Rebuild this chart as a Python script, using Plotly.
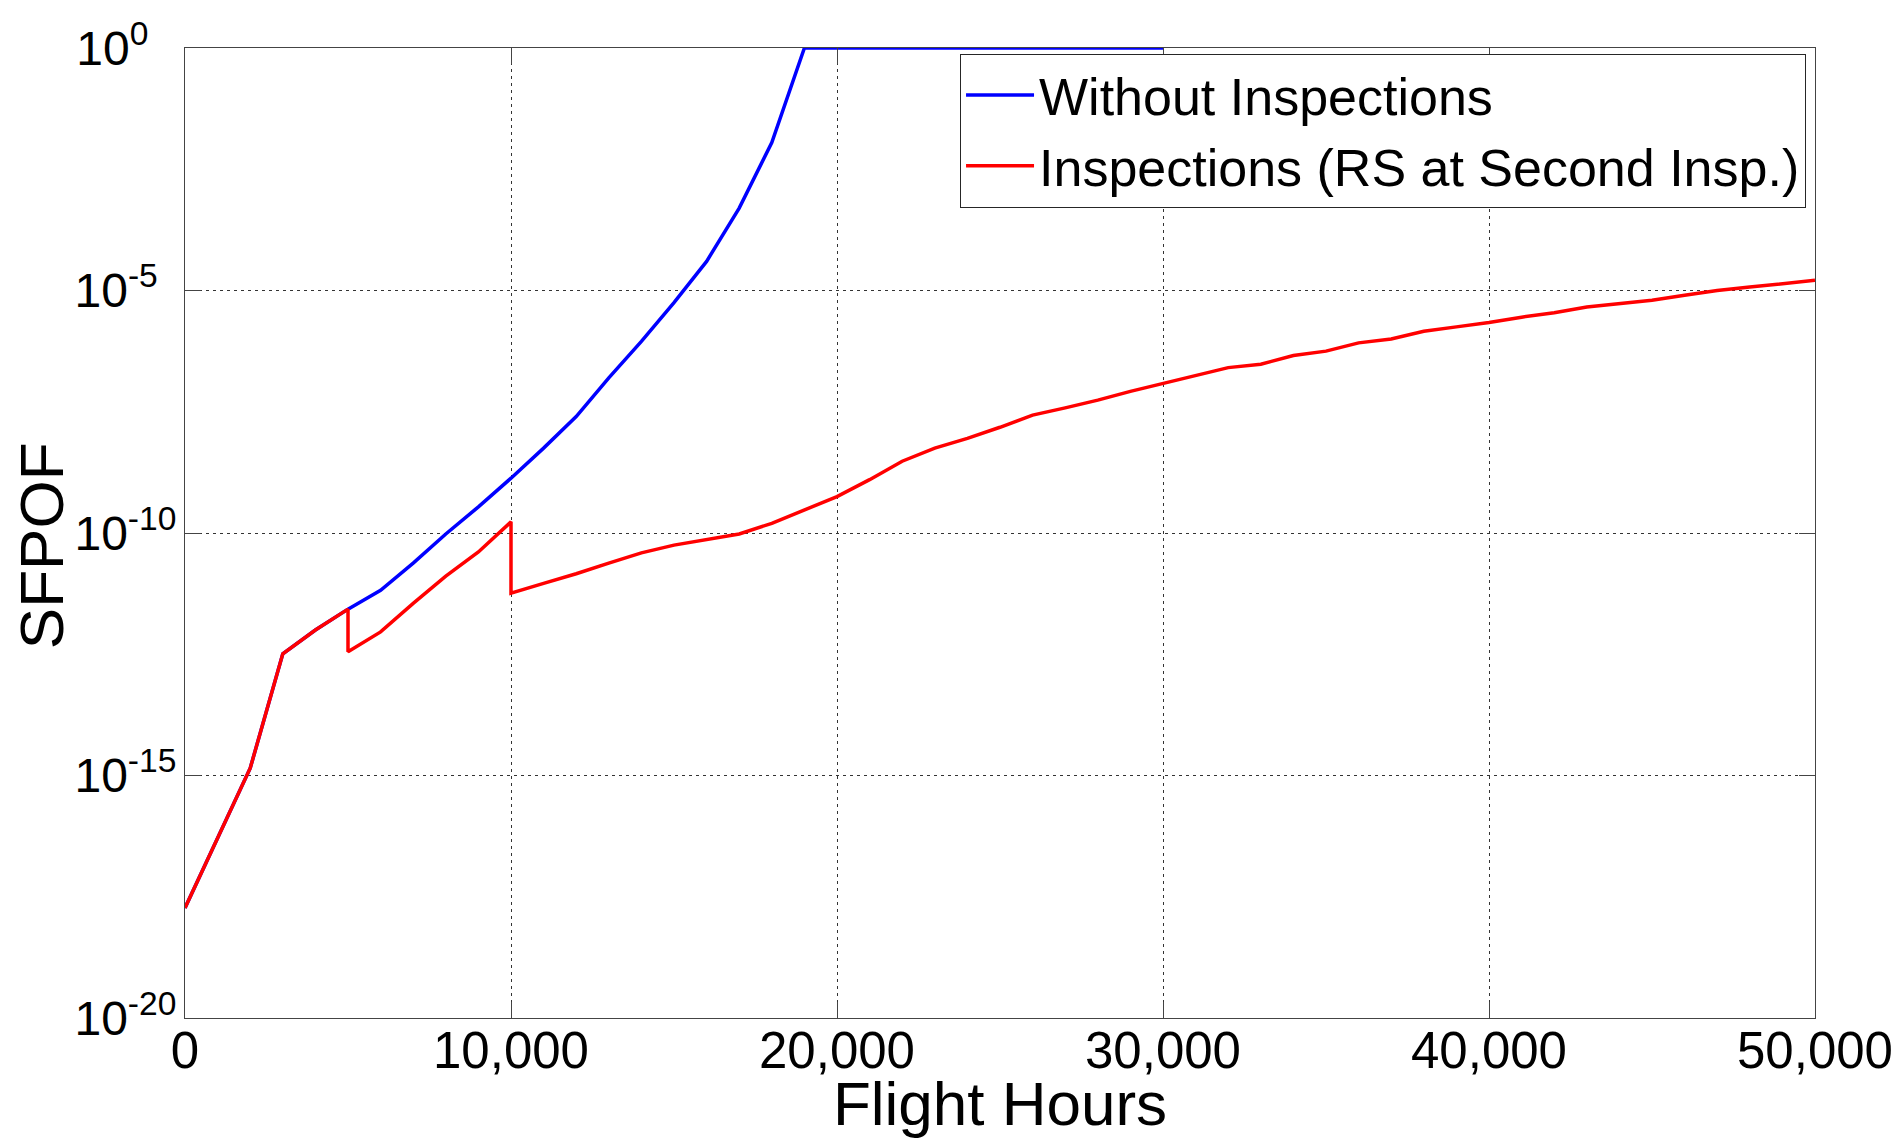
import plotly.graph_objects as go

# ---- data (SFPOF given as log10 exponents) ----
blue_hours = [0, 1000, 2000, 3000, 4000, 5000, 6000, 7000, 8000, 9000, 10000,
              11000, 12000, 13000, 14000, 15000, 16000, 17000, 18000, 19000,
              20000, 22000, 24000, 26000, 28000, 30000]
blue_log10 = [-17.73, -16.30, -14.85, -12.49, -12.00, -11.57, -11.18, -10.62, -10.02, -9.46, -8.87,
              -8.25, -7.60, -6.80, -6.05, -5.25, -4.40, -3.30, -1.95, 0.0,
              0.0, 0.0, 0.0, 0.0, 0.0, 0.0]

red_hours = [0, 1000, 2000, 3000, 4000, 5000, 5000, 6000, 7000, 8000, 9000, 10000, 10000,
             11000, 12000, 13000, 14000, 15000, 16000, 17000, 18000, 19000, 20000,
             21000, 22000, 23000, 24000, 25000, 26000, 27000, 28000, 29000, 30000,
             31000, 32000, 33000, 34000, 35000, 36000, 37000, 38000, 39000, 40000,
             41000, 42000, 43000, 44000, 45000, 46000, 47000, 48000, 49000, 50000]
red_log10 = [-17.73, -16.30, -14.85, -12.49, -12.00, -11.57, -12.45, -12.04, -11.45, -10.89, -10.39, -9.77, -11.24,
             -11.04, -10.84, -10.62, -10.41, -10.25, -10.13, -10.02, -9.80, -9.52, -9.25,
             -8.90, -8.52, -8.25, -8.05, -7.82, -7.57, -7.42, -7.26, -7.08, -6.92,
             -6.75, -6.59, -6.52, -6.34, -6.25, -6.08, -6.00, -5.84, -5.75, -5.66,
             -5.55, -5.46, -5.34, -5.27, -5.20, -5.10, -5.00, -4.93, -4.86, -4.79]

series_names = ["Without Inspections", "Inspections (RS at Second Insp.)"]

x_tickvals = [0, 10000, 20000, 30000, 40000, 50000]
y_tickvals = [1e-20, 1e-15, 1e-10, 1e-5, 1e0]
# labels are left-aligned in the reference: pad the shorter exponents with no-break spaces
NB = "\u00a0"
y_ticktext = ["10<sup>-20</sup>", "10<sup>-15</sup>", "10<sup>-10</sup>",
              "10<sup>-5" + NB * 2 + "</sup>", "10<sup>0" + NB * 3 + "</sup>"]

FONT = "Liberation Sans, Arial, sans-serif"

fig = go.Figure()
fig.add_trace(go.Scatter(
    x=blue_hours, y=[10 ** v for v in blue_log10], mode="lines",
    name=series_names[0], line=dict(color="#0000FF", width=3.5)))
fig.add_trace(go.Scatter(
    x=red_hours, y=[10 ** v for v in red_log10], mode="lines",
    name=series_names[1], line=dict(color="#FF0000", width=3.5)))

axis_common = dict(
    showline=True, linecolor="#444444", linewidth=1, mirror="ticks",
    ticks="inside", ticklen=16, tickcolor="#444444", tickwidth=1,
    showgrid=True, gridcolor="#333333", gridwidth=1, griddash="3px,4px",
    zeroline=False,
)

fig.update_xaxes(
    range=[0, 50000], tickvals=x_tickvals, tickformat=",",
    tickfont=dict(family=FONT, size=51, color="black"),
    title=dict(text="Flight Hours", font=dict(family=FONT, size=62, color="black"), standoff=0),
    ticklabelstandoff=-12,
    **axis_common)
fig.update_yaxes(
    type="log", range=[-20, 0], tickvals=y_tickvals, ticktext=y_ticktext,
    tickfont=dict(family=FONT, size=48, color="black"),
    ticklabelstandoff=-2,
    **axis_common)

# y-axis title (placed slightly below the axis centre, as in the reference)
fig.add_annotation(
    text="SFPOF", textangle=-90, showarrow=False,
    xref="paper", yref="paper", x=-0.088, y=0.487,
    xanchor="center", yanchor="middle",
    font=dict(family=FONT, size=62, color="black"))

fig.update_layout(
    width=1899, height=1138,
    margin=dict(l=185, r=84, t=48, b=120, autoexpand=False),
    paper_bgcolor="white", plot_bgcolor="white",
    font=dict(family=FONT, color="black"),
    showlegend=True,
    legend=dict(
        x=0.9945, y=0.994, xanchor="right", yanchor="top",
        bgcolor="white", bordercolor="#262626", borderwidth=1,
        font=dict(family=FONT, size=52, color="black"),
        itemwidth=68, tracegroupgap=0,
    ),
)

fig.write_html("out.html")
